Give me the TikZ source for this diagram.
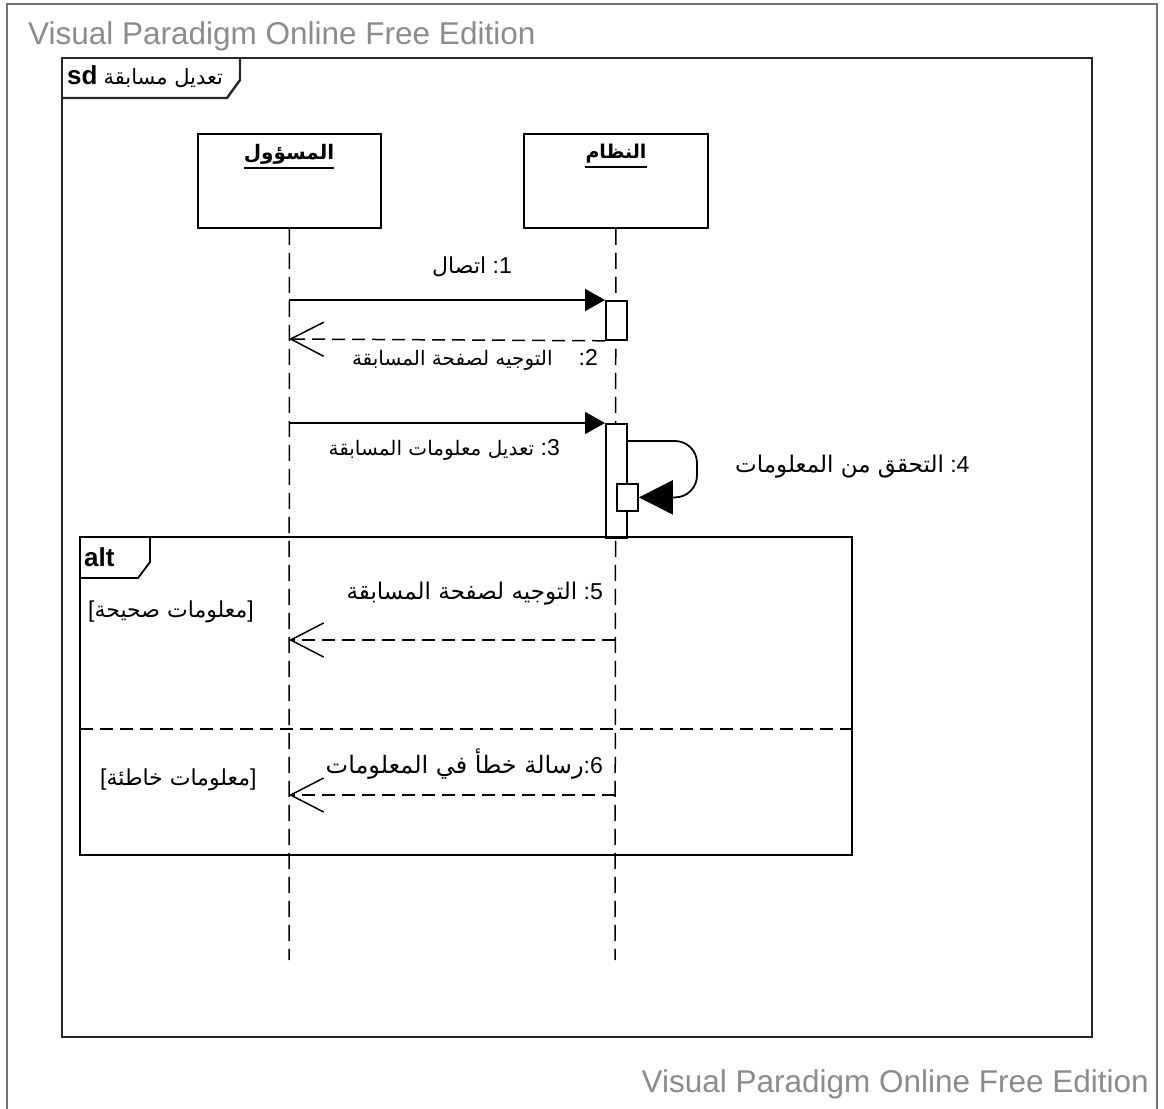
\documentclass[tikz,border=0pt]{standalone}
\usepackage{fontspec}
\setmainfont{Liberation Sans}
\newfontfamily\ar[Script=Arabic]{DejaVu Sans}
\TeXXeTstate=1
\usetikzlibrary{arrows.meta}
\newcommand{\asz}[1]{\fontsize{#1}{#1}\ar}
\begin{document}
\begin{tikzpicture}[x=1pt,y=-1pt,
  frameline/.style={draw=black!85,line width=2.4pt},
  boxline/.style={draw=black,line width=1.8pt},
  lifeline/.style={draw=black,line width=1.5pt,dash pattern=on 16pt off 8pt},
  callmsg/.style={draw=black,line width=1.8pt,-{Triangle[length=20pt,width=22pt]}},
  retmsg/.style={draw=black,line width=1.5pt,dash pattern=on 13pt off 7pt,
     -{Straight Barb[length=33pt,width=34pt,line width=1.5pt]}},
  lbl/.style={font=\fontsize{23}{26}\selectfont, inner sep=0pt},
  wm/.style={text=black!45, font=\fontsize{31.5}{36}\selectfont, inner sep=0pt}
]
\useasboundingbox (0,0) rectangle (1164,1108);
% outer border
\draw[black!55,line width=1.5pt] (7,4) rectangle (1157,1114);
% watermarks
\node[wm, anchor=west] (wm1) at (28,36) {Visual Paradigm Online Free Edition};
\node[wm, anchor=east] (wm2) at (1149,1084) {Visual Paradigm Online Free Edition};
% sd frame
\draw[frameline] (62,58) rectangle (1092,1037);
\draw[frameline] (62,98) -- (227,98) -- (240,80) -- (240,58);
\node[anchor=west, inner sep=0pt] (sdlbl) at (67,77)
  {\fontsize{26}{28}\selectfont\textbf{sd}\hspace{6pt}{\asz{21}\beginR تعديل مسابقة\endR}};
% lifeline heads
\node[boxline, minimum width=183pt, minimum height=94pt, anchor=north west, inner sep=0pt] (admin) at (197,133) {};
\node[boxline, minimum width=184pt, minimum height=94pt, anchor=north west, inner sep=0pt] (sys) at (523,133) {};
\node[inner sep=0pt] (adminlbl) at (289,154) {\bfseries\asz{20}\beginR المسؤول\endR};
\node[inner sep=0pt] (syslbl) at (616,154) {\bfseries\asz{19}\beginR النظام\endR};
\draw[line width=2pt] (adminlbl.west |- 0,168) -- (adminlbl.east |- 0,168);
\draw[line width=2pt] (syslbl.west |- 0,167) -- (syslbl.east |- 0,167);
\coordinate (adminEnd) at (289,960);
\coordinate (sysEnd) at (615,960);
\draw[lifeline] (admin.south) -- (adminEnd);
\draw[lifeline] (sys.south) -- (sysEnd);
% activations
\node[boxline, fill=white, minimum width=21pt, minimum height=39pt, anchor=north west, inner sep=0pt] (act1) at (605,300) {};
\node[boxline, fill=white, minimum width=21pt, minimum height=114pt, anchor=north west, inner sep=0pt] (act2) at (605,423) {};
\node[boxline, fill=white, minimum width=21pt, minimum height=27pt, anchor=north west, inner sep=0pt] (act3) at (616,483) {};
% message points
\coordinate (a1) at (289,300);
\coordinate (a2) at (289,339);
\coordinate (a3) at (289,423);
\coordinate (s4) at (626,441);
\coordinate (c5) at (615,640);
\coordinate (a5) at (289,640);
\coordinate (c6) at (615,795);
\coordinate (a6) at (289,795);
% messages
\draw[callmsg] (a1) -- (act1.north west);
\draw[retmsg] (act1.south west) -- (a2);
\draw[callmsg] (a3) -- (act2.north west);
\draw[line width=1.8pt, rounded corners=22pt, -{Triangle[length=34pt,width=34pt]}]
  (s4) -- (697,441) -- (697,0 |- act3.east) -- (act3.east);
% alt frame
\draw[boxline] (80,537) rectangle (852,855);
\draw[boxline] (80,578) -- (138,578) -- (150,562) -- (150,537);
\node[anchor=west, inner sep=0pt] (altlbl) at (84,557) {\fontsize{26}{28}\selectfont\textbf{alt}};
\draw[line width=1.5pt, dash pattern=on 13pt off 7pt] (80,729) -- (852,729);
\draw[retmsg] (c5) -- (a5);
\draw[retmsg] (c6) -- (a6);
% labels
\node[lbl, anchor=east] (l1) at (512,267) {{\asz{22}\beginR اتصال\endR} :1};
\node[lbl, anchor=east] (l2) at (598,360) {{\asz{20}\beginR التوجيه لصفحة المسابقة\endR}\hspace{26pt}:2};
\node[lbl, anchor=east] (l3) at (560,450) {{\asz{20}\beginR تعديل معلومات المسابقة\endR} :3};
\node[lbl, anchor=west] (l4) at (735,467) {{\asz{23}\beginR التحقق من المعلومات\endR} :4};
\node[lbl, anchor=east] (l5) at (603,594) {{\asz{23}\beginR التوجيه لصفحة المسابقة\endR} :5};
\node[lbl, anchor=east] (l6) at (603,764) {{\asz{24}\beginR رسالة خطأ في المعلومات\endR}:6};
\node[lbl, anchor=west] (g1) at (88,612) {[{\asz{22}\beginR معلومات صحيحة\endR}]};
\node[lbl, anchor=west] (g2) at (100,780) {[{\asz{22}\beginR معلومات خاطئة\endR}]};
\end{tikzpicture}
\end{document}
